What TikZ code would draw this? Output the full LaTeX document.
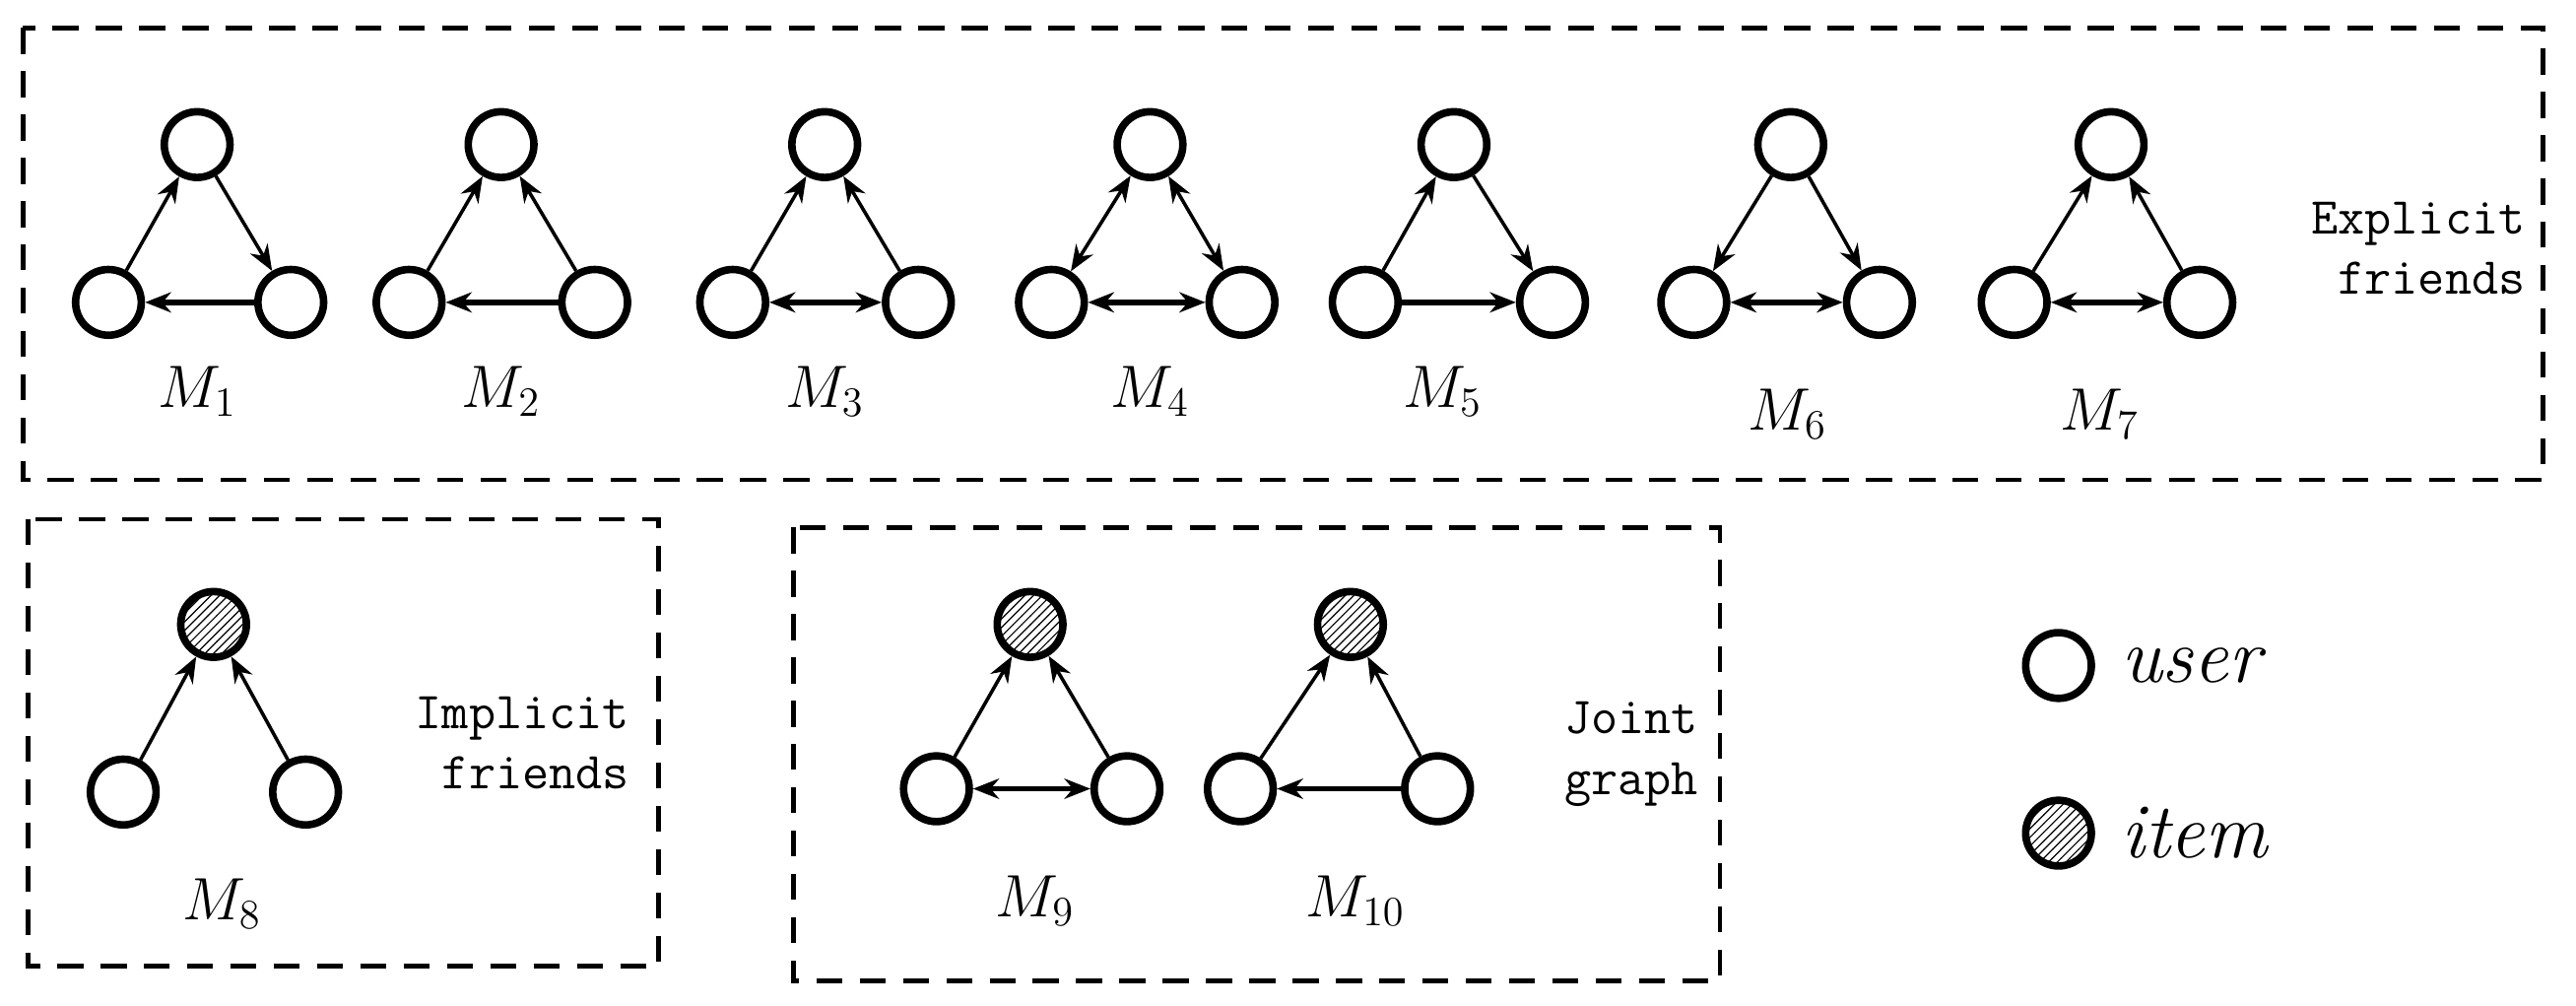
\documentclass[tikz,border=0pt]{standalone}
\usetikzlibrary{arrows.meta,patterns}
\begin{document}
\begin{tikzpicture}[x=0.02cm,y=-0.02cm,
  usr/.style={circle,draw,line width=2.6pt,minimum size=0.8cm,inner sep=0pt},
  itm/.style={usr,pattern=north east lines},
  ed/.style={line width=1.2pt,-{Stealth[length=9pt,width=7pt]}},
  bd/.style={line width=1.2pt,{Stealth[length=9pt,width=7pt]}-{Stealth[length=9pt,width=7pt]}},
  hb/.style={line width=2pt,-{Stealth[length=9pt,width=7pt]}},
  hbb/.style={line width=2pt,{Stealth[length=9pt,width=7pt]}-{Stealth[length=9pt,width=7pt]}},
  box/.style={draw,line width=1.6pt,dash pattern=on 9pt off 6pt},
  lab/.style={font=\fontsize{22}{24}\selectfont},
  leg/.style={font=\fontsize{27}{30}\selectfont},
  txt/.style={font=\ttfamily\fontsize{18}{21}\selectfont,align=right}]
\useasboundingbox (0,0) rectangle (1568,612);
\draw[box] (14,17) rectangle (1548,292);
\draw[box] (17,316) rectangle (401,588);
\draw[box] (483,321) rectangle (1047,597);
\newcommand{\tri}[7]{%
  \node[#7] (#1t) at (#2,#5) {};
  \node[usr] (#1l) at (#3,#6) {};
  \node[usr] (#1r) at (#4,#6) {};}
% M1
\tri{a}{120}{66}{177}{88}{184}{usr}
\draw[ed] (al)--(at); \draw[ed] (at)--(ar); \draw[hb] (ar)--(al);
\node[lab] (la) at (120,238) {$M_1$};
% M2
\tri{b}{305}{249}{362}{88}{184}{usr}
\draw[ed] (bl)--(bt); \draw[ed] (br)--(bt); \draw[hb] (br)--(bl);
\node[lab] (lb) at (305,238) {$M_2$};
% M3
\tri{c}{502}{446}{559}{88}{184}{usr}
\draw[ed] (cl)--(ct); \draw[ed] (cr)--(ct); \draw[hbb] (cl)--(cr);
\node[lab] (lc) at (502,238) {$M_3$};
% M4
\tri{d}{700}{640}{756}{88}{184}{usr}
\draw[bd] (dl)--(dt); \draw[bd] (dt)--(dr); \draw[hbb] (dl)--(dr);
\node[lab] (ld) at (700,238) {$M_4$};
% M5
\tri{e}{885}{831}{945}{88}{184}{usr}
\draw[ed] (el)--(et); \draw[ed] (et)--(er); \draw[hb] (el)--(er);
\node[lab] (le) at (878,238) {$M_5$};
% M6
\tri{f}{1090}{1031}{1144}{88}{184}{usr}
\draw[ed] (ft)--(fl); \draw[ed] (ft)--(fr); \draw[hbb] (fl)--(fr);
\node[lab] (lf) at (1088,252) {$M_6$};
% M7
\tri{g}{1285}{1226}{1339}{88}{184}{usr}
\draw[ed] (gl)--(gt); \draw[ed] (gr)--(gt); \draw[hbb] (gl)--(gr);
\node[lab] (lg) at (1278,252) {$M_7$};
\node[txt] (t1) at (1472,151) {Explicit\\friends};
% M8
\tri{h}{130}{75}{186}{380}{482}{itm}
\draw[ed] (hl)--(ht); \draw[ed] (hr)--(ht);
\node[lab] (lh) at (135,550) {$M_8$};
\node[txt] (t2) at (318,452) {Implicit\\friends};
% M9
\tri{i}{627}{570}{686}{380}{480}{itm}
\draw[ed] (il)--(it); \draw[ed] (ir)--(it); \draw[hbb] (il)--(ir);
\node[lab] (li) at (630,548) {$M_9$};
% M10
\tri{j}{822}{755}{875}{380}{480}{itm}
\draw[ed] (jl)--(jt); \draw[ed] (jr)--(jt); \draw[hb] (jr)--(jl);
\node[lab] (lj) at (825,548) {$M_{10}$};
\node[txt] (t3) at (993,459) {Joint\\graph};
% legend
\node[usr] (u) at (1253,405) {};
\node[leg,anchor=west] (ut) at (1285,405) {\textit{user}};
\node[itm] (it2) at (1253,507) {};
\node[leg,anchor=west] (itt) at (1285,507) {\textit{item}};
\end{tikzpicture}
\end{document}
